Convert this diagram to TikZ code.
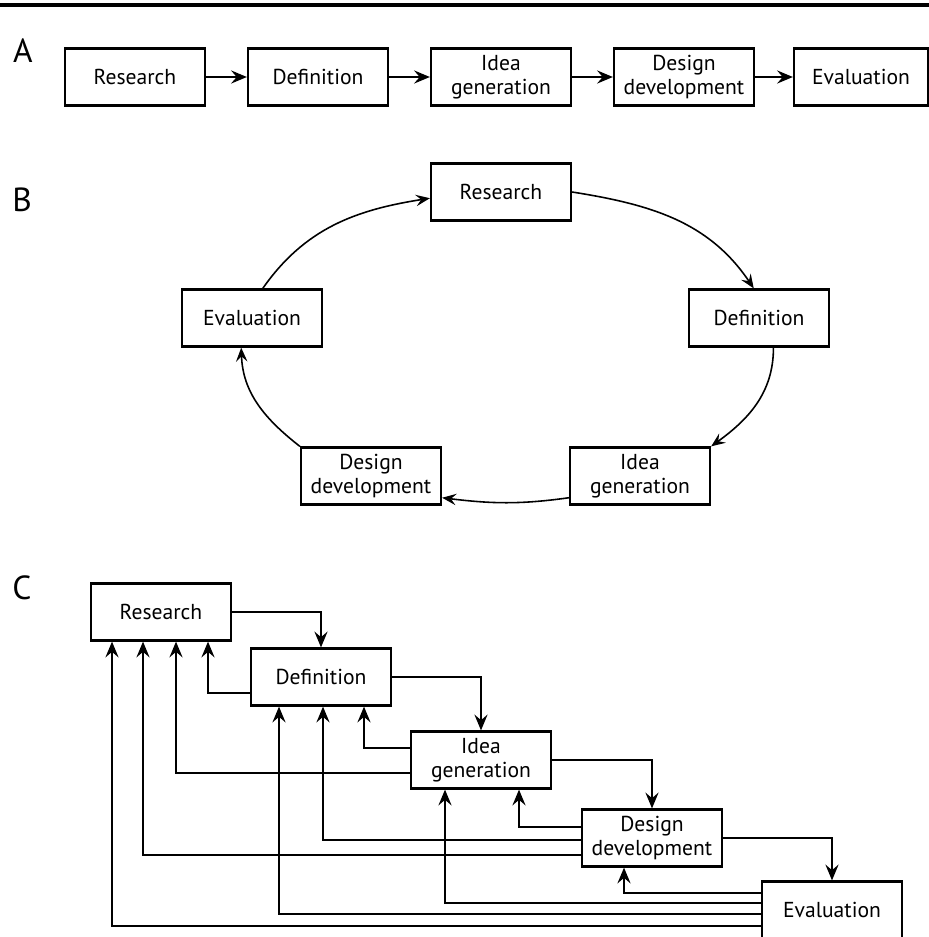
\documentclass[tikz,border=0pt]{standalone}
\usepackage{fontspec}
\setmainfont{PT Sans}
\usetikzlibrary{arrows.meta,calc}
\tikzset{
  stage/.style={
    draw, line width=1.3pt, align=center, inner sep=0pt,
    minimum width=2.8cm, minimum height=1.14cm,
    font=\fontsize{12.3}{13.6}\selectfont,
  },
  part label/.style={
    inner sep=0pt, font=\fontsize{19}{19}\selectfont,
  },
  flow/.style={
    -{Stealth[length=9pt,width=7.5pt,inset=3.2pt]}, line width=0.9pt,
  },
  cycle flow/.style={
    -{Stealth[length=8pt,width=6.5pt,inset=3pt]}, line width=0.9pt,
  }
}
\begin{document}
\begin{tikzpicture}[x=0.02cm,y=0.02cm]
            \useasboundingbox (0,0) rectangle (929,-937);
            \draw[line width=2.2pt] (0,-5) -- (929,-5);

            \node[part label] (labA) at (23,-51) {A};
            \node[part label] (labB) at (22,-200) {B};
            \node[part label] (labC) at (22,-588) {C};

            \node[stage] (aRes) at (135,-77) {Research};
            \node[stage] (aDef) at (318,-77) {Definition};
            \node[stage] (aIdea) at (501,-77) {Idea\\generation};
            \node[stage] (aDes) at (684,-77) {Design\\development};
            \node[stage, minimum width=2.68cm] (aEval) at (861,-77) {Evaluation};
            \draw[flow] (aRes) -- (aDef);
            \draw[flow] (aDef) -- (aIdea);
            \draw[flow] (aIdea) -- (aDes);
            \draw[flow] (aDes) -- (aEval);

            \node[stage] (bRes) at (501,-192) {Research};
            \node[stage] (bDef) at (759,-318) {Definition};
            \node[stage] (bIdea) at (640,-476) {Idea\\generation};
            \node[stage] (bDes) at (371,-476) {Design\\development};
            \node[stage] (bEval) at (252,-318) {Evaluation};
            \draw[cycle flow] (bEval.70) to[out=55, in=189] (bRes.185);
            \draw[cycle flow] (bRes.east) to[out=-9, in=124] (bDef.100);
            \draw[cycle flow] (bDef.-64) to[out=-90, in=36] (bIdea.north east);
            \draw[cycle flow] (bIdea.197) to[out=188, in=-7] (bDes.-17);
            \draw[cycle flow] (bDes.north west) to[out=142, in=-88] (bEval.-110);

            \node[stage] (cRes) at (161,-612) {Research};
            \node[stage] (cDef) at (321,-677) {Definition};
            \node[stage] (cIdea) at (481,-760) {Idea\\generation};
            \node[stage] (cDes) at (652,-838) {Design\\development};
            \node[stage] (cEval) at (832,-910) {Evaluation};
            \draw[flow] (cRes.east) -| (cDef.north);
            \draw[flow] (cDef.east) -| (cIdea.north);
            \draw[flow] (cIdea.east) -| (cDes.north);
            \draw[flow] (cDes.east) -| (cEval.north);

            \draw[flow] ($(cDef.west)+(0,-16)$) -| ($(cRes.south)+(47,0)$);
            \draw[flow] ($(cIdea.west)+(0,-13)$) -| ($(cRes.south)+(15,0)$);
            \draw[flow] ($(cDes.west)+(0,-17)$) -| ($(cRes.south)+(-18,0)$);
            \draw[flow] ($(cEval.west)+(0,-16)$) -| ($(cRes.south)+(-49,0)$);
            \draw[flow] ($(cIdea.west)+(0,12)$) -| ($(cDef.south)+(43,0)$);
            \draw[flow] ($(cDes.west)+(0,-2)$) -| ($(cDef.south)+(2,0)$);
            \draw[flow] ($(cEval.west)+(0,-4)$) -| ($(cDef.south)+(-42,0)$);
            \draw[flow] ($(cDes.west)+(0,11)$) -| ($(cIdea.south)+(38,0)$);
            \draw[flow] ($(cEval.west)+(0,7)$) -| ($(cIdea.south)+(-36,0)$);
            \draw[flow] ($(cEval.west)+(0,17)$) -| ($(cDes.south)+(-28,0)$);
        \end{tikzpicture}
\end{document}
